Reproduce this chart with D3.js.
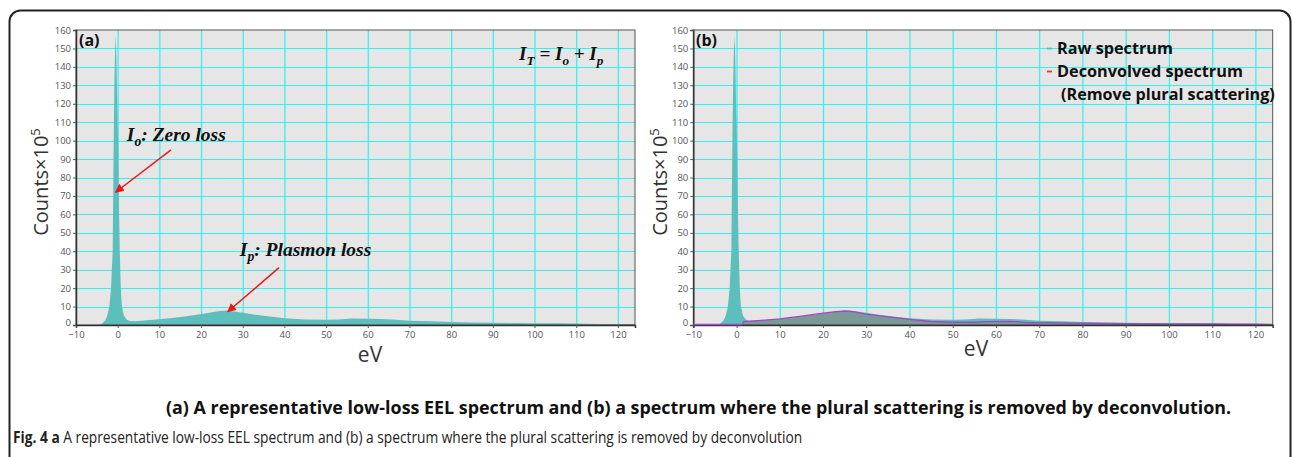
<!DOCTYPE html>
<html>
<head>
<meta charset="utf-8">
<script src="https://cdn.jsdelivr.net/npm/d3@7"></script>
<style>
  body { margin: 0; background: #fff; }
  svg { display: block; }
</style>
</head>
<body>
<script>
// EEL low-loss spectrum, two panels: (a) raw, (b) raw + deconvolved

// DATA (eV vs counts x10^5)
var rawEv = [-10, -5, -4, -3, -2.5, -2, -1.6, -1.2, -1.0, -0.8, -0.6, -0.45, -0.3, -0.1, 0.1, 0.3, 0.5, 0.75, 1, 1.5, 2.25, 3, 4, 5, 7, 10, 13, 16, 19, 22, 24, 26, 28, 30, 33, 36, 40, 45, 50, 53, 56, 60, 63, 66, 70, 75, 80, 85, 90, 95, 100, 105, 110, 115, 120, 124];
var rawCounts = [0, 0, 0.3, 2.5, 5, 10, 20, 40, 90, 130, 150, 157, 145, 120, 100, 65, 40, 20, 10, 5, 2.7, 2.2, 2, 2.2, 2.6, 3.1, 3.8, 4.6, 5.5, 6.6, 7.4, 7.8, 7.3, 6.6, 5.6, 4.8, 3.6, 3.0, 2.8, 3.0, 3.5, 3.4, 3.3, 3.0, 2.3, 2.0, 1.6, 1.4, 1.2, 1.1, 0.9, 0.9, 0.8, 0.6, 0.5, 0.5];

var decEv = [-10, 1.4, 1.6, 2, 5, 10, 15, 20, 23, 25, 27, 30, 35, 40, 45, 50, 55, 58, 62, 65, 67, 70, 80, 90, 100, 110, 120, 124];
var decCounts = [0, 0, 1.8, 2, 2.4, 3.3, 4.8, 6.4, 7.3, 7.6, 7.2, 5.9, 4.4, 3.1, 1.9, 1.5, 1.5, 1.8, 1.9, 1.8, 1.3, 1.25, 1.0, 0.8, 0.6, 0.55, 0.4, 0.35];

var xTicks = [-10, 0, 10, 20, 30, 40, 50, 60, 70, 80, 90, 100, 110, 120];
var yTicks = [0, 10, 20, 30, 40, 50, 60, 70, 80, 90, 100, 110, 120, 130, 140, 150, 160];

var legendLabels = ['Raw spectrum', 'Deconvolved spectrum', '(Remove plural scattering)'];
var captionText = '(a) A representative low-loss EEL spectrum and (b) a spectrum where the plural scattering is removed by deconvolution.';
var figText = ' A representative low-loss EEL spectrum and (b) a spectrum where the plural scattering is removed by deconvolution';

// colours
var teal = '#5cbfbc';
var decFill = '#7a9997';
var purple = '#a048c8';
var grid = '#30f0f0';
var plotBg = '#e6e6e6';

var W = 1292, H = 457;
var svg = d3.select('body').append('svg').attr('width', W).attr('height', H);

// outer rounded frame (runs off the bottom and right edge)
svg.append('rect')
  .attr('x', 9.5).attr('y', 10.5)
  .attr('width', 1281).attr('height', 470)
  .attr('rx', 11)
  .attr('fill', 'none').attr('stroke', '#222').attr('stroke-width', 2);

svg.append('defs').append('marker')
  .attr('id', 'arrow')
  .attr('viewBox', '0 0 10 10')
  .attr('refX', 9).attr('refY', 5)
  .attr('markerWidth', 6).attr('markerHeight', 6)
  .attr('markerUnits', 'strokeWidth')
  .attr('orient', 'auto')
  .append('path').attr('d', 'M0,0 L10,5 L0,10 z').attr('fill', '#f01414');

// grow / shrink the font so the text spans a given width
function fitText(sel, width) {
  var fs = parseFloat(sel.attr('font-size'));
  var len = sel.node().getComputedTextLength();
  sel.attr('font-size', (fs * width / len).toFixed(2));
}

function drawPanel(left, right, xMax, showDec) {
  var top = 30, bottom = 325;
  var x = d3.scaleLinear().domain([-10, xMax]).range([left, right]);
  var y = d3.scaleLinear().domain([0, 160]).range([bottom, top]);
  var g = svg.append('g');

  g.append('rect')
    .attr('x', left).attr('y', top)
    .attr('width', right - left).attr('height', bottom - top)
    .attr('fill', plotBg);

  // grid
  g.selectAll('.vgrid').data(xTicks.filter(function(d){ return d > -10; }))
    .enter().append('line')
    .attr('x1', function(d){ return x(d) + 0.5; }).attr('x2', function(d){ return x(d) + 0.5; })
    .attr('y1', top).attr('y2', bottom)
    .attr('stroke', grid).attr('stroke-width', 1.2);
  g.selectAll('.hgrid').data(yTicks.filter(function(d){ return d > 0 && d < 160; }))
    .enter().append('line')
    .attr('x1', left).attr('x2', right)
    .attr('y1', function(d){ return Math.round(y(d)) + 0.5; }).attr('y2', function(d){ return Math.round(y(d)) + 0.5; })
    .attr('stroke', grid).attr('stroke-width', 1.2);

  var raw = rawEv.map(function(e, i){ return [e, rawCounts[i]]; });
  var area = d3.area()
    .x(function(d){ return x(d[0]); })
    .y0(y(0))
    .y1(function(d){ return y(d[1]); });

  g.append('path').datum(raw).attr('d', area).attr('fill', teal);

  if (showDec) {
    var dec = decEv.map(function(e, i){ return [e, decCounts[i]]; });
    g.append('path').datum(dec).attr('d', area).attr('fill', decFill);
    g.append('path').datum(dec)
      .attr('d', d3.line().x(function(d){ return x(d[0]); }).y(function(d){ return y(d[1]); }))
      .attr('fill', 'none').attr('stroke', purple).attr('stroke-width', 1.3);
  }

  // frame
  g.append('rect')
    .attr('x', left).attr('y', top)
    .attr('width', right - left).attr('height', bottom - top)
    .attr('fill', 'none').attr('stroke', '#555').attr('stroke-width', 1);

  var ax = g.append('g').attr('transform', 'translate(0,' + bottom + ')')
    .call(d3.axisBottom(x).tickValues(xTicks).tickSize(3).tickPadding(3).tickFormat(d3.format('d')));
  var ay = g.append('g').attr('transform', 'translate(' + left + ',0)')
    .call(d3.axisLeft(y).tickValues(yTicks).tickSize(3).tickPadding(2));
  [ax, ay].forEach(function(a){
    a.select('.domain').attr('stroke', '#333').attr('stroke-width', 1.5);
    a.selectAll('.tick line').attr('stroke', '#555');
    a.selectAll('.tick text').attr('fill', '#555')
      .attr('font-family', 'Open Sans, sans-serif').attr('font-size', 9.5);
  });
  ax.selectAll('.tick text').text(function(d){ return d < 0 ? '\u2212' + Math.abs(d) : d; });
  ay.select('.tick text').attr('dy', '0em'); // keep "0" clear of "-10"

  return { x: x, y: y };
}

var pa = drawPanel(76, 635, 124.1, false);
var pb = drawPanel(693.3, 1272.7, 124, true);

// purple baseline of deconvolved spectrum sits on the axis line
svg.append('line')
  .attr('x1', pb.x(-10)).attr('x2', pb.x(1.5))
  .attr('y1', pb.y(0) - 0.5).attr('y2', pb.y(0) - 0.5)
  .attr('stroke', purple).attr('stroke-width', 1.3);

// panel letters
svg.append('text').attr('x', 79).attr('y', 46).text('(a)')
  .attr('font-family', 'Open Sans, sans-serif').attr('font-weight', 'bold').attr('font-size', 16).attr('fill', '#111');
svg.append('text').attr('x', 696).attr('y', 46).text('(b)')
  .attr('font-family', 'Open Sans, sans-serif').attr('font-weight', 'bold').attr('font-size', 16).attr('fill', '#111');

// axis titles
function yTitle(cx, cy) {
  var t = svg.append('text')
    .attr('transform', 'translate(' + cx + ',' + cy + ') rotate(-90)')
    .attr('text-anchor', 'middle')
    .attr('font-family', 'Open Sans, sans-serif').attr('font-size', 20).attr('fill', '#333');
  t.append('tspan').text('Counts\u00d710');
  t.append('tspan').attr('dy', -8).attr('font-size', 13).text('5');
}
yTitle(48, 182);
yTitle(667, 182);

svg.append('text').attr('x', 370).attr('y', 362).attr('text-anchor', 'middle')
  .attr('font-family', 'Open Sans, sans-serif').attr('font-size', 21).attr('fill', '#333').text('eV');
svg.append('text').attr('x', 976).attr('y', 356).attr('text-anchor', 'middle')
  .attr('font-family', 'Open Sans, sans-serif').attr('font-size', 21).attr('fill', '#333').text('eV');

// annotations in panel (a): serif bold italic with subscripts
function formula(px, py, parts, size) {
  var t = svg.append('text').attr('x', px).attr('y', py)
    .attr('font-family', 'Liberation Serif, Times New Roman, serif')
    .attr('font-weight', 'bold').attr('font-style', 'italic')
    .attr('font-size', size).attr('fill', '#111');
  var shift = 0;
  parts.forEach(function(p){
    var s = t.append('tspan').text(p[0]);
    if (p[1] === 'sub') {
      s.attr('font-size', size * 0.7).attr('dy', 5 - shift);
      shift = 5;
    } else {
      s.attr('dy', -shift);
      shift = 0;
    }
  });
  return t;
}

formula(pa.x(96.3), pa.y(144), [['I'], ['T', 'sub'], [' = I'], ['o', 'sub'], [' + I'], ['p', 'sub']], 19);
formula(pa.x(2.2), pa.y(100), [['I'], ['o', 'sub'], [': Zero loss']], 19.5);
formula(pa.x(29.3), pa.y(37.5), [['I'], ['p', 'sub'], [': Plasmon loss']], 19.5);

// red arrows (start / tip in data units)
var arrows = [
  [[12.8, 95], [-0.5, 72]],
  [[38.7, 31.1], [26.4, 7.2]]
];
svg.selectAll('.arrow').data(arrows).enter().append('line')
  .attr('x1', function(d){ return pa.x(d[0][0]); }).attr('y1', function(d){ return pa.y(d[0][1]); })
  .attr('x2', function(d){ return pa.x(d[1][0]); }).attr('y2', function(d){ return pa.y(d[1][1]); })
  .attr('stroke', '#f01414').attr('stroke-width', 1.5)
  .attr('marker-end', 'url(#arrow)');

// legend panel (b)
var legColors = [teal, '#f03030'];
var legY = [54, 77, 100];
legendLabels.forEach(function(lbl, i){
  if (i < 2) {
    svg.append('line')
      .attr('x1', 1047).attr('x2', 1052)
      .attr('y1', legY[i] - 5.5).attr('y2', legY[i] - 5.5)
      .attr('stroke', legColors[i]).attr('stroke-width', 1.8);
  }
  var t = svg.append('text')
    .attr('x', i < 2 ? 1057 : 1061).attr('y', legY[i])
    .attr('font-family', 'Open Sans, sans-serif').attr('font-weight', 'bold')
    .attr('font-size', 15).attr('fill', '#111').text(lbl);
  fitText(t, [116, 186, 214][i]);
});

// captions
var cap = svg.append('text').attr('x', 166).attr('y', 414)
  .attr('font-family', 'Open Sans, sans-serif').attr('font-weight', 'bold')
  .attr('font-size', 15).attr('fill', '#111').text(captionText);
fitText(cap, 1066);

// bottom line: narrower original font, so squash it horizontally
var fig = svg.append('text')
  .attr('font-family', 'Open Sans, sans-serif').attr('font-size', 16.5).attr('fill', '#222');
fig.append('tspan').attr('font-weight', 'bold').text('Fig. 4 a');
fig.append('tspan').text(figText);
var figLen = fig.node().getComputedTextLength();
fig.attr('transform', 'translate(13,443) scale(' + (790 / figLen).toFixed(4) + ',1)');
</script>
</body>
</html>
